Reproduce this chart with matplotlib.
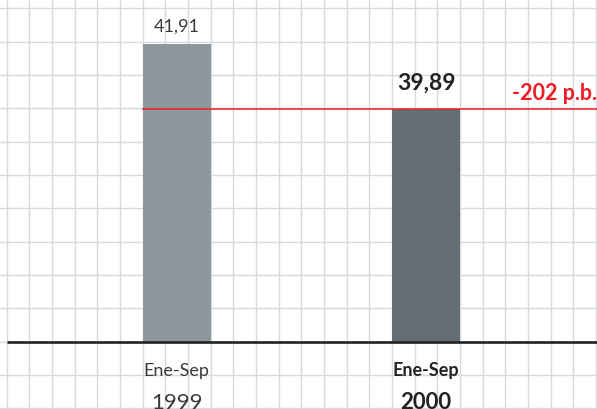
import matplotlib.pyplot as plt

# Datos: ratio ene-sep 1999 vs 2000
periodos = ['Ene-Sep', 'Ene-Sep']
anios = ['1999', '2000']
valores = [41.91, 39.89]
etiquetas = ['41,91', '39,89']
variacion = '-202 p.b.'

plt.rcParams['font.family'] = ['Lato', 'DejaVu Sans']

W, H = 597, 410
fig = plt.figure(figsize=(W / 100, H / 100), dpi=100)

# cuadricula de fondo (unidades de celda, linea base en y=0)
cell_w, cell_h = 22.67, 33.33
x0_px, base_px = 6.67, 342.67
xlim = (-x0_px / cell_w, (W - x0_px) / cell_w)
grid_ax = fig.add_axes([0, 0, 1, 1])
grid_ax.set_xlim(xlim)
grid_ax.set_ylim(-(H - base_px) / cell_h, base_px / cell_h)
for i in range(0, 27):
    grid_ax.axvline(i, color='#d6dadf', lw=1.0, zorder=0)
for j in range(-2, 11):
    grid_ax.axhline(j, color='#d6dadf', lw=1.0, zorder=0)
grid_ax.axis('off')

# eje principal con los valores
base = 32.66
escala = 32.18  # px por punto
ax = fig.add_axes([0, 0, 1, 1])
ax.patch.set_alpha(0)
ax.set_xlim(xlim)
ax.set_ylim(base - (H - base_px) / escala, base + base_px / escala)
ax.axis('off')

pos = [7.5, 18.5]
colores = ['#8e979c', '#646e73']
ax.bar(pos, [v - base for v in valores], bottom=base, width=3,
       color=colores, zorder=2)

# linea de referencia roja al nivel del 2000
ax.plot([pos[0] - 1.5, xlim[1]], [valores[1], valores[1]],
        color='#ee1c25', lw=1.1, zorder=3)

# linea base
ax.plot([0, xlim[1]], [base, base], color='#222222', lw=1.9, zorder=4,
        solid_capstyle='butt')

ax.annotate(etiquetas[0], (pos[0], valores[0]), xytext=(0, 9.5),
            textcoords='offset points', ha='center', va='baseline',
            fontsize=13, color='#3a3a3a')
ax.annotate(etiquetas[1], (pos[1], valores[1]), xytext=(0, 14.5),
            textcoords='offset points', ha='center', va='baseline',
            fontsize=16.5, fontweight='bold', color='#222222')
ax.annotate(variacion, (xlim[1], valores[1]), xytext=(0, 7.5),
            textcoords='offset points', ha='right', va='baseline',
            fontsize=15.5, fontweight='bold', color='#ee1c25')

for i in range(2):
    peso = 'normal' if i == 0 else 'bold'
    col = '#3a3a3a' if i == 0 else '#222222'
    ax.annotate(periodos[i], (pos[i], base), xytext=(0, -24),
                textcoords='offset points', ha='center', va='baseline',
                fontsize=13, fontweight=peso, color=col)
    ax.annotate(anios[i], (pos[i], base), xytext=(0, -47.5),
                textcoords='offset points', ha='center', va='baseline',
                fontsize=16, fontweight=peso, color=col)

fig.savefig('out.png', dpi=100)
